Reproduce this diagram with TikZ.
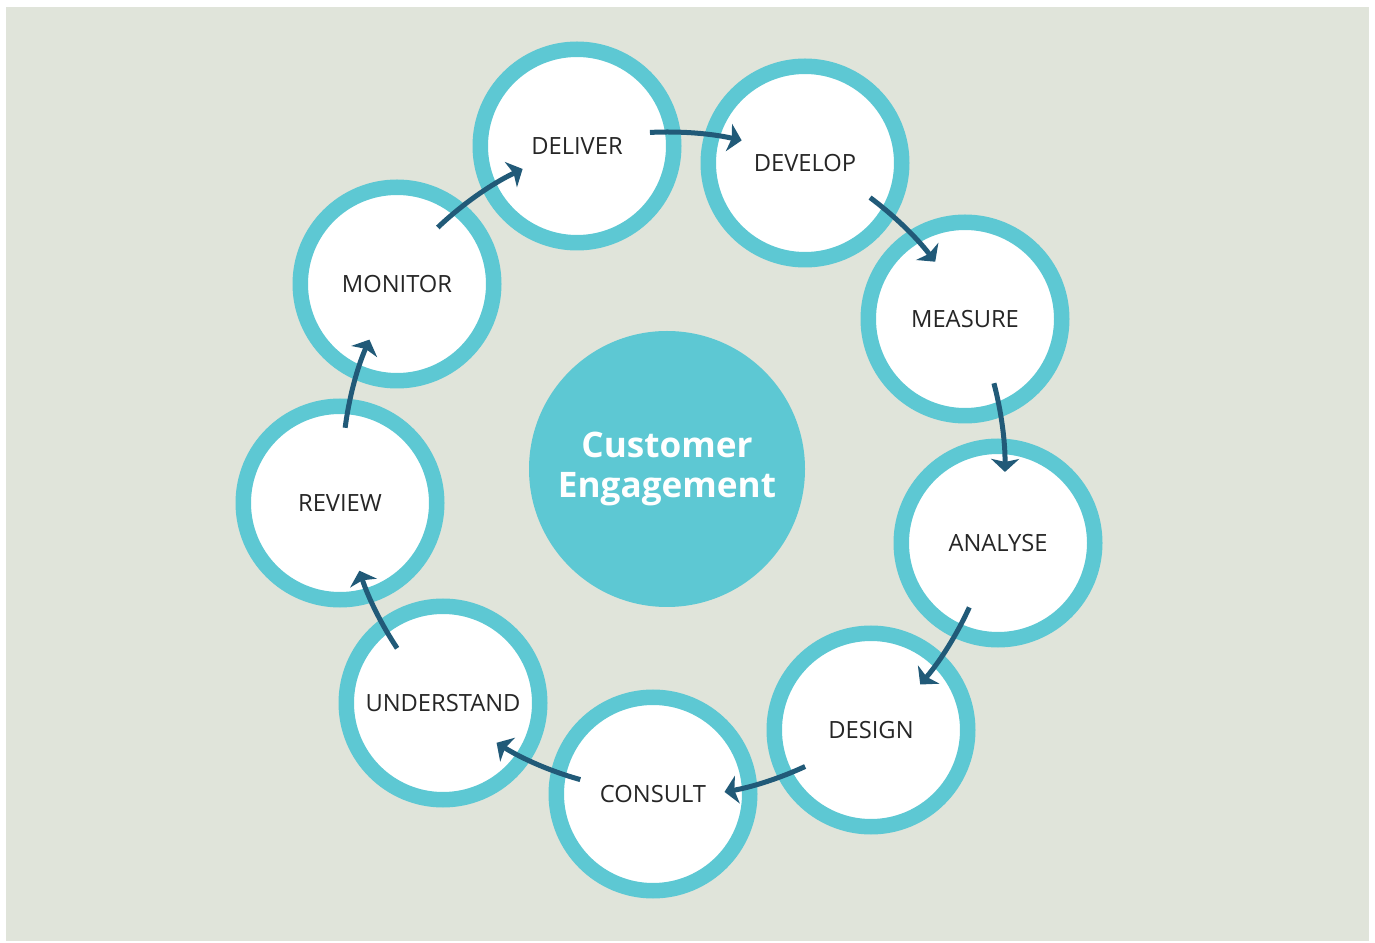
\documentclass[tikz,border=0pt]{standalone}
\usepackage{fontspec}
\setmainfont{Open Sans}
\usetikzlibrary{arrows.meta}

\definecolor{bgcol}{HTML}{E0E4DA}
\definecolor{ringcol}{HTML}{5DC8D3}
\definecolor{arrcol}{HTML}{215A78}
\definecolor{txtcol}{HTML}{262626}

\tikzset{
  stage/.style={circle,draw=ringcol,line width=0.31cm,fill=white,minimum size=3.87cm,
    inner sep=0pt,text=txtcol,font=\fontsize{13.5}{16}\selectfont},
  hub/.style={circle,fill=ringcol,minimum size=5.52cm,inner sep=0pt,text=white,
    align=center,font=\fontsize{20}{23}\selectfont\bfseries},
  flow/.style={draw=arrcol,line width=0.1cm,
    -{Stealth[length=0.26cm,width=0.56cm,inset=0.06cm]}}
}

\begin{document}
\begin{tikzpicture}
			\useasboundingbox (0,0) rectangle (27.5,18.84);
			\fill[bgcol](0.12,0.02) rectangle (27.38,18.70);
			% the hub
			\node[hub] (hub) at (13.34,9.46) {Customer\\Engagement};
			% the stages, clockwise
			\node[stage] (deliver) at (11.54,15.92) {DELIVER};
			\node[stage] (develop) at (16.10,15.58) {DEVELOP};
			\node[stage] (measure) at (19.30,12.46) {MEASURE};
			\node[stage] (analyse) at (19.96,7.98) {ANALYSE};
			\node[stage] (design) at (17.42,4.24) {DESIGN};
			\node[stage] (consult) at (13.06,2.96) {CONSULT};
			\node[stage] (understand) at (8.86,4.78) {UNDERSTAND};
			\node[stage] (review) at (6.80,8.78) {REVIEW};
			\node[stage] (monitor) at (7.94,13.16) {MONITOR};
			% arrows, arcs round the hub (start angle/end angle/radius)
			\foreach \s/\e/\r in {92.9/77.2/6.74,53.2/37.7/6.78,14.7/-0.5/6.76,-24.6/-40.4/6.65,
				-65.1/-79.9/6.56,-105.6/-121.9/6.45,-146.4/-161.7/6.48,172.7/156.5/6.49,133.5/115.7/6.66}
				\draw[flow](hub) ++(\s:\r) arc[start angle=\s,end angle=\e,radius=\r];
		\end{tikzpicture}
\end{document}
